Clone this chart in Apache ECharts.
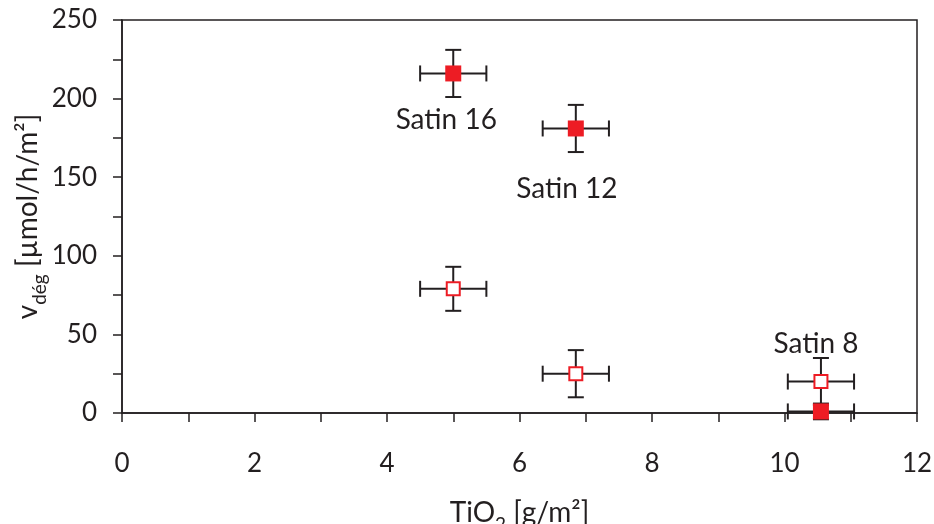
<!DOCTYPE html>
<html>
<head>
<meta charset="utf-8">
<script src="https://cdn.jsdelivr.net/npm/echarts@6/dist/echarts.min.js"></script>
<style>
  html, body { margin: 0; padding: 0; background: #fff; }
  #chart { width: 934px; height: 524px; }
</style>
</head>
<body>
<div id="chart"></div>
<script>
// données
var samples = ['Satin 16', 'Satin 12', 'Satin 8'];
var tio2 = [5.0, 6.85, 10.55];
var tio2Err = [0.5, 0.5, 0.5];
var vFilled = [216, 181, 1];
var vFilledErr = [15, 15, 5];
var vHollow = [79, 25, 20];
var vHollowErr = [14, 15, 15];

var fontFamily = 'Lato, "Open Sans", sans-serif';
var ink = '#231f20';
var red = '#ed1c24';

function pts(ys) {
  return tio2.map(function (x, i) { return [x, ys[i]]; });
}
function errData(ys, yErr) {
  return tio2.map(function (x, i) { return [x, ys[i], tio2Err[i], yErr[i]]; });
}

// barres d'erreur (x et y) avec petits traits
function renderErr(params, api) {
  var x = api.value(0), y = api.value(1), dx = api.value(2), dy = api.value(3);
  var c = api.coord([x, y]);
  var l = api.coord([x - dx, y]), r = api.coord([x + dx, y]);
  var t = api.coord([x, y + dy]), b = api.coord([x, y - dy]);
  var cap = 8;
  var style = { stroke: ink, lineWidth: 2 };
  var seg = function (x1, y1, x2, y2) {
    return { type: 'line', shape: { x1: x1, y1: y1, x2: x2, y2: y2 }, style: style };
  };
  return {
    type: 'group',
    children: [
      seg(l[0], c[1], r[0], c[1]),
      seg(l[0], c[1] - cap, l[0], c[1] + cap),
      seg(r[0], c[1] - cap, r[0], c[1] + cap),
      seg(c[0], t[1], c[0], b[1]),
      seg(c[0] - cap, t[1], c[0] + cap, t[1]),
      seg(c[0] - cap, b[1], c[0] + cap, b[1])
    ]
  };
}

var labelStyle = { show: true, fontFamily: fontFamily, fontSize: 28, color: ink };

var filledData = pts(vFilled).map(function (p, i) {
  var item = { value: p };
  if (i === 0) item.label = Object.assign({ position: 'bottom', offset: [-7, 20] }, labelStyle, { formatter: samples[i] });
  if (i === 1) item.label = Object.assign({ position: 'bottom', offset: [-9, 34] }, labelStyle, { formatter: samples[i] });
  return item;
});
var hollowData = pts(vHollow).map(function (p, i) {
  var item = { value: p };
  if (i === 2) item.label = Object.assign({ position: 'top', offset: [-5, -11] }, labelStyle, { formatter: samples[i] });
  return item;
});

var chart = echarts.init(document.getElementById('chart'), null, { renderer: 'canvas' });
var axisCommon = {
  axisLine: { show: true, onZero: false, lineStyle: { color: ink, width: 1.5 } },
  axisTick: { show: true, length: 9, lineStyle: { color: ink, width: 1.5 } },
  minorTick: { show: true, splitNumber: 2, length: 9, lineStyle: { color: ink, width: 1.5 } },
  splitLine: { show: false },
  axisLabel: { fontFamily: fontFamily, fontSize: 26, color: ink }
};
var nameRich = {
  a: { fontFamily: fontFamily, fontSize: 28, color: ink, lineHeight: 32, verticalAlign: 'bottom' },
  s: { fontFamily: fontFamily, fontSize: 19, color: ink, lineHeight: 32, verticalAlign: 'bottom', padding: [0, 0, -7, 0] }
};

var option = {
  animation: false,
  grid: {
    left: 122, right: 17, top: 20, bottom: 111, outerBoundsMode: 'none',
    show: true, borderColor: ink, borderWidth: 1.5
  },
  xAxis: Object.assign({}, axisCommon, {
    type: 'value', min: 0, max: 12, interval: 2,
    axisLabel: Object.assign({}, axisCommon.axisLabel, { margin: 38 }),
    name: '{a|TiO}{s|2}{a| [g/m²]}',
    nameLocation: 'middle', nameGap: 82, nameMoveOverlap: false,
    nameTextStyle: { rich: nameRich }
  }),
  yAxis: Object.assign({}, axisCommon, {
    type: 'value', min: 0, max: 250, interval: 50,
    axisLabel: Object.assign({}, axisCommon.axisLabel, { margin: 25 }),
    name: '{a|v}{s|dég}{a| [µmol/h/m²]}',
    nameLocation: 'middle', nameGap: 80, nameRotate: 90, nameMoveOverlap: false,
    nameTextStyle: { rich: nameRich }
  }),
  series: [
    { type: 'custom', renderItem: renderErr, data: errData(vHollow, vHollowErr), z: 2, silent: true },
    { type: 'custom', renderItem: renderErr, data: errData(vFilled, vFilledErr), z: 2, silent: true },
    {
      type: 'scatter', data: hollowData, symbol: 'rect', symbolSize: 13, z: 5,
      itemStyle: { color: '#fff', borderColor: red, borderWidth: 2, opacity: 1 }
    },
    {
      type: 'scatter', data: filledData, symbol: 'rect', symbolSize: 16, z: 5,
      itemStyle: { color: red, opacity: 1 }
    }
  ]
};
chart.setOption(option);
</script>
</body>
</html>
